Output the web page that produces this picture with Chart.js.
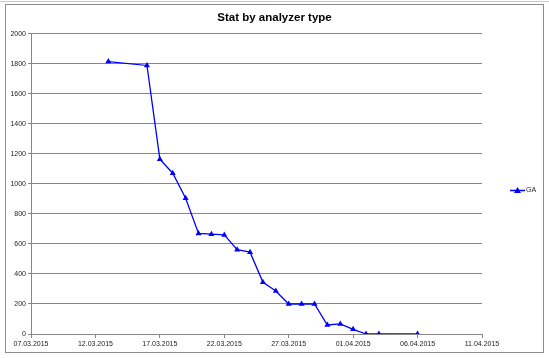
<!DOCTYPE html>
<html>
<head>
<meta charset="utf-8">
<script src="https://cdn.jsdelivr.net/npm/chart.js@4/dist/chart.umd.min.js"></script>
<style>
html,body{margin:0;padding:0;background:#fff;}
#c{display:block;}
</style>
</head>
<body>
<canvas id="c" width="549" height="358"></canvas>
<script>
const titleText = 'Stat by analyzer type';
const seriesName = 'GA';
const dates = ['13.03.2015','16.03.2015','17.03.2015','18.03.2015','19.03.2015','20.03.2015','21.03.2015','22.03.2015','23.03.2015','24.03.2015','25.03.2015','26.03.2015','27.03.2015','28.03.2015','29.03.2015','30.03.2015','31.03.2015','01.04.2015','02.04.2015','03.04.2015','06.04.2015'];
const values = [1815,1789,1165,1071,905,670,665,660,562,545,345,287,200,200,200,60,67,31,0,0,0];
const xTickLabels = ['07.03.2015','12.03.2015','17.03.2015','22.03.2015','27.03.2015','01.04.2015','06.04.2015','11.04.2015'];
const yTicks = [0,200,400,600,800,1000,1200,1400,1600,1800,2000];

function dayNum(s){const p=s.split('.');return Date.UTC(+p[2],+p[1]-1,+p[0])/86400000;}
const startDay = dayNum(xTickLabels[0]);
const endDay = dayNum(xTickLabels[xTickLabels.length-1]);
const points = dates.map((d,i)=>({x:dayNum(d)-startDay,y:values[i]}));

const BLUE = '#0000ff';
const GRID = '#868686';

const framePlugin = {
  id:'frame',
  beforeDraw(chart){
    const ctx=chart.ctx;
    ctx.save();
    ctx.fillStyle='#fff';
    ctx.fillRect(0,0,chart.width,chart.height);
    ctx.strokeStyle='#c8c8c8';
    ctx.lineWidth=1;
    ctx.beginPath();ctx.moveTo(0,1.5);ctx.lineTo(549,1.5);ctx.stroke();
    ctx.strokeStyle='#8c8c8c';
    ctx.strokeRect(5.5,4.5,538,348);
    ctx.restore();
  },
  afterDraw(chart){
    const ctx=chart.ctx;
    ctx.save();
    const y=190.5;
    ctx.strokeStyle=BLUE;ctx.lineWidth=1.5;
    ctx.beginPath();ctx.moveTo(510,y);ctx.lineTo(525,y);ctx.stroke();
    ctx.fillStyle=BLUE;
    ctx.beginPath();ctx.moveTo(517.5,y-3.5);ctx.lineTo(521,y+2.5);ctx.lineTo(514,y+2.5);ctx.closePath();ctx.fill();
    ctx.fillStyle='#222';
    ctx.font='7px "Liberation Sans"';
    ctx.textBaseline='middle';
    ctx.fillText(seriesName,526,y);
    ctx.restore();
  }
};

new Chart(document.getElementById('c'),{
  type:'line',
  data:{datasets:[{
    label:seriesName,
    data:points,
    borderColor:BLUE,
    backgroundColor:BLUE,
    borderWidth:1.3,
    pointStyle:'triangle',
    pointRadius:3.5,
    pointBorderWidth:0,
    pointBackgroundColor:BLUE,
    tension:0,
    yAxisID:'y'
  }]},
  options:{
    responsive:false,
    animation:false,
    devicePixelRatio:1,
    layout:{padding:0},
    plugins:{
      legend:{display:false},
      tooltip:{enabled:false},
      title:{display:true,text:titleText,color:'#000',
        font:{family:'Liberation Sans',size:11.5,weight:'bold'},
        padding:{top:11,bottom:9}}
    },
    scales:{
      x:{
        type:'linear',min:0,max:endDay-startDay,
        afterFit(s){s.height=24;},
        afterBuildTicks(s){s.ticks=xTickLabels.map(l=>({value:dayNum(l)-startDay}));},
        ticks:{
          callback:(v,i)=>xTickLabels[i],
          color:'#222',font:{family:'Liberation Sans',size:7},
          maxRotation:0,autoSkip:false,padding:2
        },
        grid:{drawOnChartArea:false,drawTicks:true,tickLength:4,color:GRID},
        border:{display:true,color:GRID,width:1}
      },
      y:{
        min:0,max:2000,
        afterFit(s){s.width=31;},
        afterBuildTicks(s){s.ticks=yTicks.map(v=>({value:v}));},
        ticks:{callback:v=>String(v),color:'#222',font:{family:'Liberation Sans',size:7},padding:2},
        grid:{color:GRID,lineWidth:1,tickLength:3},
        border:{display:true,color:GRID,width:1}
      },
      yR:{
        position:'right',min:0,max:2000,
        afterFit(s){s.width=67;},
        ticks:{display:false},
        grid:{display:false,drawOnChartArea:false,drawTicks:false},
        border:{display:false}
      }
    }
  },
  plugins:[framePlugin]
});
</script>
</body>
</html>
